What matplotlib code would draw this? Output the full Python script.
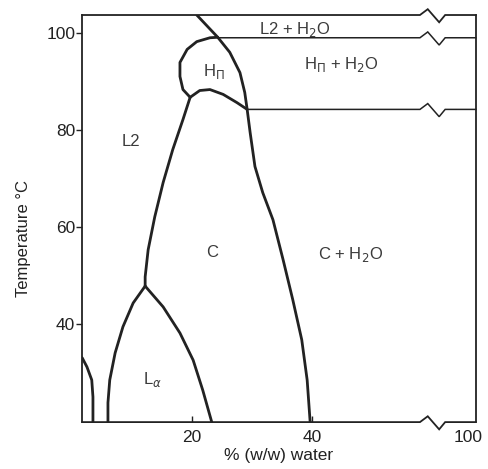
import numpy as np
import matplotlib
matplotlib.use('Agg')
import matplotlib.pyplot as plt
from matplotlib.ticker import FixedLocator

plt.rcParams['font.family'] = ['Liberation Sans', 'DejaVu Sans']

# phase boundaries: (% w/w water, temperature degC)
right_x = [20.8, 24.3, 26.3, 28.0, 28.8, 29.2, 29.7, 30.5, 31.8, 33.5, 35.2, 36.8, 38.3, 39.2, 39.7]
right_t = [103.8, 99.2, 96.1, 91.9, 87.8, 84.3, 79.5, 72.5, 67.1, 61.5, 53.2, 45.0, 36.7, 28.4, 19.7]

h2_top_x = [24.3, 23.0, 20.8, 19.2, 18.0, 18.0, 18.5, 19.7]
h2_top_t = [99.2, 99.1, 98.3, 96.7, 94.0, 91.1, 88.4, 86.8]
h2_low_x = [19.7, 21.3, 23.0, 25.2, 27.5, 29.2]
h2_low_t = [86.8, 88.2, 88.4, 87.4, 85.7, 84.3]

c_left_x = [19.7, 18.5, 16.8, 15.2, 13.8, 12.7, 12.2, 12.2]
c_left_t = [86.8, 82.2, 76.0, 69.2, 62.1, 55.3, 49.7, 47.8]

la_left_x = [12.2, 10.2, 8.5, 7.2, 6.3, 6.0, 6.0]
la_left_t = [47.8, 44.3, 39.4, 34.0, 28.4, 23.7, 19.7]
la_right_x = [12.2, 15.2, 18.0, 20.2, 21.8, 23.3]
la_right_t = [47.8, 43.5, 38.1, 32.5, 26.3, 19.7]

small_x = [1.7, 2.5, 3.3, 3.5, 3.5]
small_t = [33.0, 31.1, 28.4, 24.9, 19.7]

# horizontal boundaries: (start %, temperature)
l2_h2o_line = (24.3, 99.1)
hii_h2o_line = (29.2, 84.3)

labels = ['L2 + H$_2$O', 'H$_\\Pi$', 'H$_\\Pi$ + H$_2$O', 'L2', 'C', 'C + H$_2$O', 'L$_\\alpha$']
label_x = [37.2, 23.7, 44.8, 9.8, 23.3, 46.5, 13.5]
label_t = [100.8, 92.1, 93.6, 77.7, 54.7, 54.3, 28.4]

x_ticks = [20, 40, 100]
y_ticks = [40, 60, 80, 100]

# broken x axis: linear up to BRK, compressed after it
BRK = 62.5
K = 3.5 / 37.5


def fwd(x):
    x = np.asarray(x, dtype=float)
    return np.where(x <= BRK, x, BRK + (x - BRK) * K)


def inv(x):
    x = np.asarray(x, dtype=float)
    return np.where(x <= BRK, x, BRK + (x - BRK) / K)


XMIN, XMAX = 1.7, 114.0
YMIN, YMAX = 19.7, 103.8
ink = '#222222'

fig = plt.figure(figsize=(4.89, 4.69), dpi=100)
ax = fig.add_axes([0.168, 0.100, 0.805, 0.868])
ax.set_xscale('function', functions=(fwd, inv))
ax.set_xlim(XMIN, XMAX)
ax.set_ylim(YMIN, YMAX)

for xs, ts in [(right_x, right_t), (h2_top_x, h2_top_t), (h2_low_x, h2_low_t),
               (c_left_x, c_left_t), (la_left_x, la_left_t),
               (la_right_x, la_right_t), (small_x, small_t)]:
    ax.plot(xs, ts, color=ink, lw=2.0, solid_capstyle='round', solid_joinstyle='round')


def broken_line(x0, t, lw):
    # straight line to the right edge with a zigzag at the break
    zx = [x0, 58.0, 59.3, 61.2, 62.2, XMAX]
    zt = [t, t, t + 1.2, t - 1.5, t, t]
    ax.plot(zx, zt, color=ink, lw=lw, clip_on=False, solid_joinstyle='miter')


broken_line(l2_h2o_line[0], l2_h2o_line[1], 1.1)
broken_line(hii_h2o_line[0], hii_h2o_line[1], 1.1)
broken_line(XMIN, YMAX, 1.3)
broken_line(XMIN, YMIN, 1.3)

for s in ['top', 'bottom']:
    ax.spines[s].set_visible(False)
for s in ['left', 'right']:
    ax.spines[s].set_linewidth(1.3)
    ax.spines[s].set_color(ink)

for txt, x, t in zip(labels, label_x, label_t):
    ax.text(x, t, txt, ha='center', va='center', fontsize=12, color='#3a3a3a')

ax.xaxis.set_major_locator(FixedLocator(x_ticks))
ax.set_xticklabels([str(v) for v in x_ticks])
ax.yaxis.set_major_locator(FixedLocator(y_ticks))
ax.xaxis.set_minor_locator(FixedLocator([]))
ax.tick_params(axis='x', direction='in', length=4, width=1, pad=6, labelsize=12.5, colors=ink)
ax.tick_params(axis='y', direction='out', length=4, width=1, pad=1, labelsize=12.5, colors=ink)
ax.tick_params(right=False, top=False)
# no tick mark beside the compressed 100
ax.xaxis.get_major_ticks()[-1].tick1line.set_visible(False)

ax.set_xlabel('% (w/w) water', fontsize=12.5, color=ink, labelpad=2)
ax.set_ylabel('Temperature °C', fontsize=12, color=ink)
ax.yaxis.set_label_coords(-0.13, 0.45)

fig.savefig('out.png', dpi=100)
